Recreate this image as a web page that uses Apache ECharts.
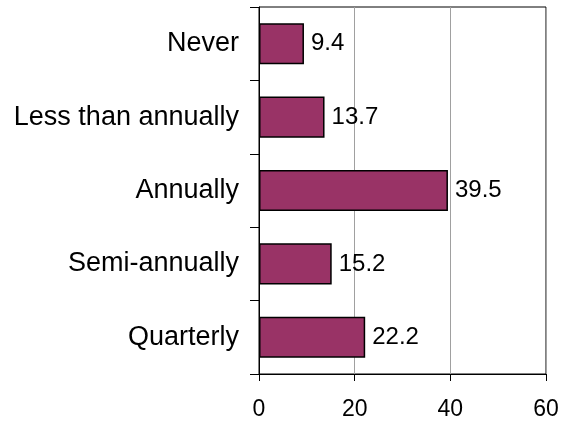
<!DOCTYPE html>
<html>
<head>
<meta charset="utf-8">
<script src="https://cdn.jsdelivr.net/npm/echarts@6/dist/echarts.min.js"></script>
<style>html,body{margin:0;padding:0;background:#fff}#c{width:562px;height:424px}</style>
</head>
<body>
<div id="c"></div>
<script>
const categories = ["Never", "Less than annually", "Annually", "Semi-annually", "Quarterly"];
const values = [9.4, 13.7, 39.5, 15.2, 22.2];
const xTicks = [0, 20, 40, 60];

const chart = echarts.init(document.getElementById('c'));
const font = "'Liberation Sans', Arial, sans-serif";
chart.setOption({
  animation: false,
  grid: { left: 259, right: 16, top: 7, bottom: 50, show: true, borderColor: '#000', borderWidth: 1, backgroundColor: 'transparent' },
  xAxis: {
    type: 'value', min: xTicks[0], max: xTicks[xTicks.length - 1], interval: 20,
    axisLine: { show: true, lineStyle: { color: '#000' } },
    axisTick: { show: true, length: 7, lineStyle: { color: '#000' } },
    splitLine: { show: true, lineStyle: { color: '#a0a0a0' } },
    axisLabel: { color: '#000', fontSize: 23, fontFamily: font, margin: 24 }
  },
  yAxis: {
    type: 'category', data: categories, inverse: true,
    axisLine: { show: true, lineStyle: { color: '#000' } },
    axisTick: { show: true, length: 9, alignWithLabel: false, lineStyle: { color: '#000' } },
    axisLabel: { color: '#000', fontSize: 27, fontFamily: font, margin: 20 }
  },
  series: [{
    type: 'bar', data: values, barCategoryGap: '44%',
    itemStyle: { color: '#993366', borderColor: '#000', borderWidth: 1.5 },
    label: { show: true, position: 'right', distance: 7, color: '#000', fontSize: 24, fontFamily: font }
  }]
});
</script>
</body>
</html>
